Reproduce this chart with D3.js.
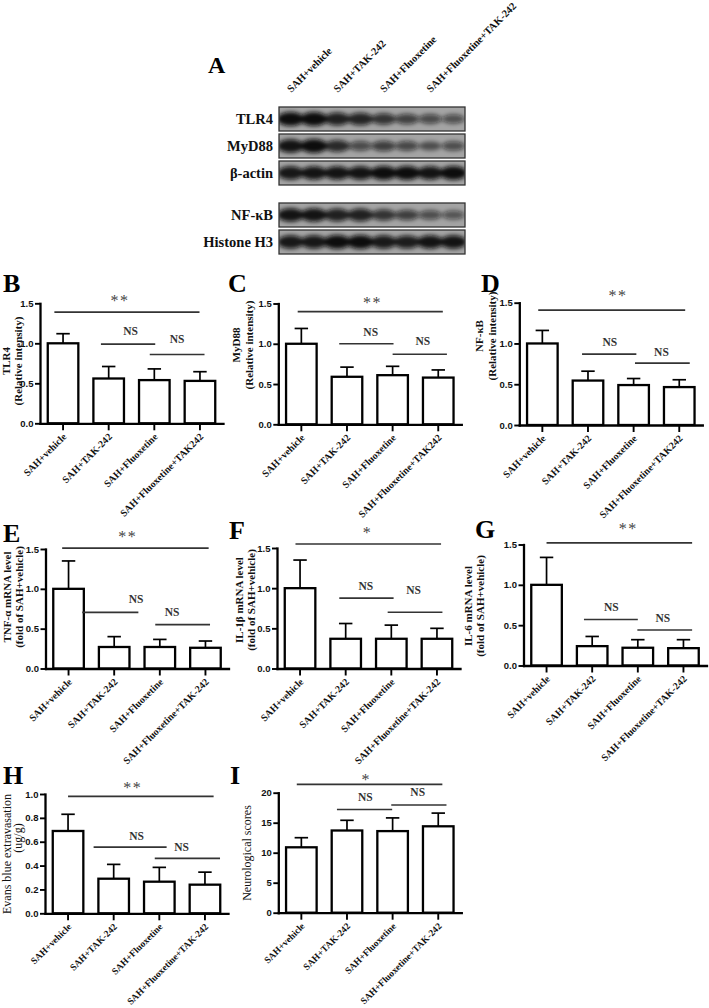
<!DOCTYPE html>
<html><head><meta charset="utf-8">
<script src="https://cdn.jsdelivr.net/npm/d3@7"></script>
<style>
body{margin:0;background:#fff;}
svg{display:block;}
</style></head><body>
<svg id="fig" width="709" height="1008"></svg>
<script>
// ================= DATA =================
const groups   = ["SAH+vehicle","SAH+TAK-242","SAH+Fluoxetine","SAH+Fluoxetine+TAK-242"];
const groupsWB = ["SAH+vehicle","SAH+TAK-242","SAH+Fluoxetine","SAH+Fluoxetine+TAK242"];

// Western blot: relative band intensity (2 samples per group, 8 lanes)
const blotProteins = ["TLR4","MyD88","β-actin","NF-κB","Histone H3"];
const bandTLR4  = [1.00,1.00,0.85,0.82,0.70,0.60,0.52,0.48];
const bandMyD88 = [0.95,1.00,0.78,0.52,0.62,0.55,0.42,0.50];
const bandActin = [0.92,0.95,0.95,0.95,1.00,1.00,0.95,1.00];
const bandNFkB  = [0.95,0.95,0.85,0.85,0.70,0.62,0.50,0.45];
const bandH3    = [0.92,0.92,1.00,1.00,0.90,0.88,0.95,0.95];

// Bar panels: mean and SEM
const tlr4Mean  = [1.00,0.56,0.54,0.53],   tlr4Sem  = [0.12,0.15,0.14,0.115];
const myd88Mean = [1.00,0.59,0.61,0.58],   myd88Sem = [0.19,0.12,0.11,0.095];
const nfkbMean  = [1.00,0.545,0.49,0.465], nfkbSem  = [0.16,0.115,0.08,0.09];
const tnfMean   = [1.00,0.27,0.27,0.26],   tnfSem   = [0.35,0.13,0.095,0.085];
const il1bMean  = [1.00,0.37,0.37,0.37],   il1bSem  = [0.35,0.19,0.17,0.13];
const il6Mean   = [1.00,0.24,0.22,0.215],  il6Sem   = [0.34,0.12,0.10,0.105];
const ebMean    = [0.69,0.29,0.265,0.24],  ebSem    = [0.14,0.12,0.12,0.105];
const neuroMean = [10.9,13.7,13.6,14.4],   neuroSem = [1.6,1.7,2.2,2.2];

// Tick values
const ticksRel  = [0,0.5,1.0,1.5];
const ticksEB   = [0,0.2,0.4,0.6,0.8,1.0];
const ticksNeur = [0,5,10,15,20];

// Significance: [label, fromIdx, toIdx, lineValue, textIdx, textValue]
const sigB = [["**",-0.19,2.99,1.39,1.25,1.57],["NS",0.83,2.02,0.99,1.48,1.15],["NS",1.9,3.1,0.86,2.5,1.05]];
const sigC = [["**",-0.08,3.10,1.40,1.56,1.545],["NS",0.83,2.02,1.00,1.52,1.15],["NS",2.0,3.19,0.87,2.66,1.035]];
const sigD = [["**",-0.09,3.13,1.41,1.66,1.62],["NS",0.87,2.06,0.87,1.48,1.02],["NS",2.03,3.23,0.76,2.61,0.90]];
const sigE = [["**",-0.14,3.07,1.51,1.30,1.69],["NS",0.30,1.53,0.705,1.48,0.875],["NS",1.9,3.1,0.55,2.27,0.705]];
const sigF = [["*",-0.10,3.09,1.55,1.48,1.73],["NS",0.86,2.05,0.877,1.44,1.03],["NS",1.92,3.12,0.70,2.49,0.98]];
const sigG = [["**",0.0,3.19,1.52,1.79,1.73],["NS",0.82,2.0,0.57,1.42,0.73],["NS",1.99,3.19,0.44,2.55,0.59]];
const sigH = [["**",0.0,3.19,0.98,1.42,1.075],["NS",0.56,2.16,0.555,1.5,0.65],["NS",1.9,3.33,0.46,2.49,0.56]];
const sigI = [["*",-0.10,3.09,21.4,1.42,22.7],["NS",0.78,1.99,17.2,1.40,19.3],["NS",1.97,3.18,17.95,2.55,20.2]];

// ================= DRAWING =================
const svg = d3.select("#fig");
const serif = "'Liberation Serif','Times New Roman',serif";
const sans  = "'Liberation Sans',Arial,sans-serif";

const defs = svg.append("defs");
defs.append("filter").attr("id","blur").attr("x","-50%").attr("y","-100%").attr("width","200%").attr("height","300%")
  .append("feGaussianBlur").attr("stdDeviation",2.0);

function letter(t,x,y,size){
  svg.append("text").attr("x",x).attr("y",y).text(t)
    .attr("font-family",serif).attr("font-weight","bold").attr("font-size",size||26).attr("fill","#000");
}

// ---------- Panel A : western blot ----------
(function(){
  const x0 = 279, x1 = 465, boxH = 24;
  const boxTop = [107,134,161,203,230];
  const bands = [bandTLR4,bandMyD88,bandActin,bandNFkB,bandH3];
  const lane = d3.scaleBand().domain(d3.range(8)).range([x0,x1]);
  const grp  = d3.scaleBand().domain(groups).range([x0,x1]);
  const g = svg.append("g");
  blotProteins.forEach((p,k)=>{
    const top = boxTop[k];
    const cid = "clip"+k;
    defs.append("clipPath").attr("id",cid).append("rect").attr("x",x0).attr("y",top).attr("width",x1-x0).attr("height",boxH);
    g.append("rect").attr("x",x0).attr("y",top).attr("width",x1-x0).attr("height",boxH)
      .attr("fill","#a4a4a4");
    const bg = g.append("g").attr("clip-path",`url(#${cid})`);
    bg.append("g").attr("filter","url(#blur)")
      .selectAll("ellipse").data(bands[k]).join("ellipse")
      .attr("cx",(d,i)=>lane(i)+lane.bandwidth()/2)
      .attr("cy",top+boxH/2)
      .attr("rx",d=>lane.bandwidth()*(0.42+0.16*d))
      .attr("ry",d=>2.5+4.6*d)
      .attr("fill","#0c0c0c")
      .attr("opacity",d=>0.2+0.8*d);
    g.append("rect").attr("x",x0).attr("y",top).attr("width",x1-x0).attr("height",boxH)
      .attr("fill","none").attr("stroke","#333").attr("stroke-width",1.3);
    g.append("text").attr("x",273).attr("y",top+boxH/2+5).attr("text-anchor","end").text(p)
      .attr("font-family",serif).attr("font-weight","bold").attr("font-size",14.5).attr("fill","#111");
  });
  g.selectAll("text.col").data(groups).join("text")
    .attr("transform",d=>`translate(${grp(d)+grp.bandwidth()/2-11},93) rotate(-45)`)
    .attr("text-anchor","start").text(d=>d)
    .attr("font-family",serif).attr("font-weight","bold").attr("font-size",10.5).attr("fill","#111");
  letter("A",208,73,24);
})();

// ---------- Bar panels ----------
function drawPanel(p){
  const g = svg.append("g");
  const L = 183;
  const x = d3.scaleBand().domain(p.cats).range([p.ax,p.ax+L]).paddingInner(0.33).paddingOuter(0.17);
  const y = d3.scaleLinear().domain([0,p.yMax]).range([p.y0,p.yTop]);
  const bw = x.bandwidth();
  const cx = i => x(p.cats[i]) + bw/2;
  const pos = t => cx(0) + t*x.step();

  // error bars (upper)
  const eb = g.append("g").attr("stroke","#000").attr("stroke-width",1.7);
  eb.selectAll("line.v").data(p.mean).join("line")
    .attr("x1",(d,i)=>cx(i)).attr("x2",(d,i)=>cx(i))
    .attr("y1",d=>y(d)).attr("y2",(d,i)=>y(d+p.sem[i]));
  eb.selectAll("line.c").data(p.mean).join("line")
    .attr("x1",(d,i)=>cx(i)-bw*0.22).attr("x2",(d,i)=>cx(i)+bw*0.22)
    .attr("y1",(d,i)=>y(d+p.sem[i])).attr("y2",(d,i)=>y(d+p.sem[i]));
  // bars
  g.selectAll("rect.bar").data(p.mean).join("rect")
    .attr("x",(d,i)=>x(p.cats[i])).attr("y",d=>y(d))
    .attr("width",bw).attr("height",d=>y(0)-y(d))
    .attr("fill","#fff").attr("stroke","#000").attr("stroke-width",2.3);

  // axes
  const yg = g.append("g").attr("transform",`translate(${p.ax},0)`)
    .call(d3.axisLeft(y).tickValues(p.ticks).tickFormat(d3.format(p.fmt)).tickSize(5).tickSizeOuter(0).tickPadding(1.5));
  const xg = g.append("g").attr("transform",`translate(0,${p.y0})`)
    .call(d3.axisBottom(x).tickSize(7).tickSizeOuter(0));
  [yg,xg].forEach(a=>{
    a.select(".domain").attr("stroke","#000").attr("stroke-width",2.3).attr("stroke-linecap","square");
    a.selectAll(".tick line").attr("stroke","#000").attr("stroke-width",1.9);
  });
  yg.selectAll(".tick text").attr("font-family",sans).attr("font-weight","bold").attr("font-size",9.5).attr("fill","#111");
  xg.selectAll(".tick text")
    .attr("x",0).attr("y",0).attr("dy",0)
    .attr("text-anchor","end")
    .attr("transform","translate(4,14) rotate(-45)")
    .attr("font-family",serif).attr("font-weight","bold").attr("font-size",p.labSize||10).attr("fill","#111");

  // significance
  const sg = g.append("g");
  p.sig.forEach(s=>{
    const [lab,f,t,lv,tx,tv] = s;
    sg.append("line").attr("x1",pos(f)).attr("x2",pos(t)).attr("y1",y(lv)).attr("y2",y(lv))
      .attr("stroke","#333").attr("stroke-width",1.7);
    const star = lab.indexOf("*")>=0;
    const fs = star ? 16 : 11.5;
    sg.append("text").attr("x",pos(tx)).attr("y",y(tv)+(star?fs*0.5:fs*0.35))
      .attr("text-anchor","middle").text(lab)
      .attr("letter-spacing",star?1.5:0)
      .attr("font-family",serif).attr("font-weight",star?"normal":"bold")
      .attr("font-size",fs).attr("fill",star?"#444":"#333");
  });

  // y title
  p.title.forEach((t,i)=>{
    svg.append("text").attr("transform",`translate(${p.titleX[i]},${p.titleY[i]}) rotate(-90)`)
      .attr("text-anchor","middle").text(t)
      .attr("font-family",serif).attr("font-weight",p.titleBold===false?"normal":"bold")
      .attr("font-size",p.titleSize||11).attr("fill","#111");
  });
  letter(p.letter,p.lx,p.ly);
}

const relTitle = "(Relative intensity)";
const foldTitle = "(fold of SAH+vehicle)";
drawPanel({ax:40,   yTop:303.3, y0:423.3, yMax:1.5, ticks:ticksRel, fmt:".1f", cats:groupsWB, mean:tlr4Mean,  sem:tlr4Sem,  sig:sigB,
  title:["TLR4",relTitle], titleX:[10,21.5], titleY:[361,361], letter:"B", lx:3, ly:292});
drawPanel({ax:278.3,yTop:303.5, y0:424.3, yMax:1.5, ticks:ticksRel, fmt:".1f", cats:groupsWB, mean:myd88Mean, sem:myd88Sem, sig:sigC,
  title:["MyD88",relTitle], titleX:[240,252.5], titleY:[345,345], letter:"C", lx:228, ly:292});
drawPanel({ax:519.3,yTop:302.7, y0:425,   yMax:1.5, ticks:ticksRel, fmt:".1f", cats:groupsWB, mean:nfkbMean,  sem:nfkbSem,  sig:sigD,
  title:["NF-κB",relTitle], titleX:[483,495.5], titleY:[336,336], letter:"D", lx:481, ly:292});

drawPanel({ax:45.5, yTop:549,   y0:668.5, yMax:1.5, ticks:ticksRel, fmt:".1f", cats:groups, mean:tnfMean,  sem:tnfSem,  sig:sigE,
  title:["TNF-α mRNA level",foldTitle], titleX:[11,22.5], titleY:[597,597], letter:"E", lx:3, ly:542});
drawPanel({ax:277,  yTop:548,   y0:668.5, yMax:1.5, ticks:ticksRel, fmt:".1f", cats:groups, mean:il1bMean, sem:il1bSem, sig:sigF,
  title:["IL-1β mRNA level",foldTitle], titleX:[243,254.5], titleY:[600,600], letter:"F", lx:229, ly:539});
drawPanel({ax:523.5,yTop:544.5, y0:665.5, yMax:1.5, ticks:ticksRel, fmt:".1f", cats:groups, mean:il6Mean,  sem:il6Sem,  sig:sigG,
  title:["IL-6 mRNA level",foldTitle], titleX:[472,483.5], titleY:[606,606], letter:"G", lx:475, ly:538});

drawPanel({ax:45,   yTop:794,   y0:913.3, yMax:1.0, ticks:ticksEB,  fmt:".1f", cats:groups, mean:ebMean,   sem:ebSem,   sig:sigH, labSize:9.5,
  title:["Evans blue extravasation","(ug/g)"], titleX:[11,21.5], titleY:[854,838], titleBold:false, titleSize:12, letter:"H", lx:3, ly:784});
drawPanel({ax:278.3,yTop:792.7, y0:912.7, yMax:20,  ticks:ticksNeur,fmt:"d",   cats:groups, mean:neuroMean,sem:neuroSem,sig:sigI, labSize:9.5,
  title:["Neurological scores"], titleX:[251], titleY:[853], titleBold:false, titleSize:12, letter:"I", lx:230, ly:784});
</script>
</body></html>
